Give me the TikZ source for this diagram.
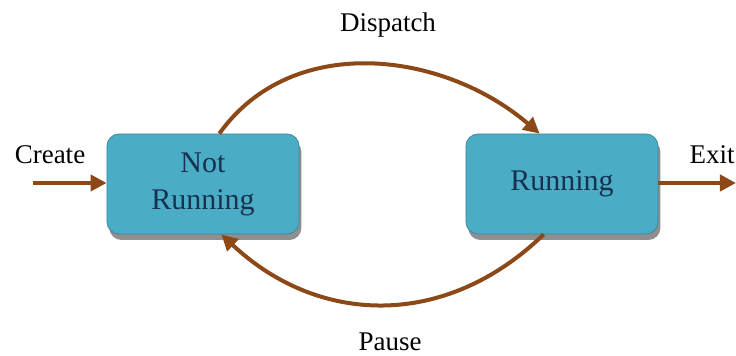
\documentclass[tikz,border=0pt]{standalone}
\usepackage{fontspec}
\setmainfont{Liberation Serif}
\usepackage{tikz}
\usetikzlibrary{arrows.meta,positioning,shadows,calc}
\definecolor{boxblue}{RGB}{75,172,198}
\definecolor{boxtext}{RGB}{23,50,80}
\definecolor{arrowbrown}{RGB}{140,72,22}
\tikzset{>=stealth}

\begin{document}
\begin{tikzpicture}[x=0.5pt,y=-0.5pt,
    state/.style={draw=boxblue!80!black,thin,fill=boxblue,rounded corners=6pt,
      minimum width=96pt,minimum height=50pt,align=center,text=boxtext,
      font=\fontsize{15}{18.5}\selectfont,
      drop shadow={shadow xshift=1.2pt,shadow yshift=-3pt,fill=black!55,opacity=0.8}},
    flow/.style={draw=arrowbrown,line width=2pt,-{Triangle[length=8pt,width=8pt]}},
    lbl/.style={font=\fontsize{13.5}{16}\selectfont}]
    \useasboundingbox (0,0) rectangle (736,356);
    %Boxes
    \node[state] (NR) at (203,184) {Not\\Running};
    \node[state] (R) at (562,184) {Running};
    %Ends
    \coordinate (In) at (33,183);
    \coordinate (Out) at (736,183);
    %Labels
    \node[lbl] (Create) at (50,155) {Create};
    \node[lbl,anchor=east,inner sep=0.5pt] (Exit) at (736,155) {Exit};
    \node[lbl] (Dispatch) at (388,25) {Dispatch};
    \node[lbl] (Pause) at (390,342) {Pause};
    %Arrows
    \draw[flow] (In) -- (NR.west |- In);
    \draw[flow] (R.east |- Out) -- (Out);
    \draw[flow] (NR.72) .. controls (292,32) and (443,51) .. (R.114);
    \draw[flow] (R.250) .. controls (446,329) and (319,326) .. (NR.290);
\end{tikzpicture}
\end{document}
